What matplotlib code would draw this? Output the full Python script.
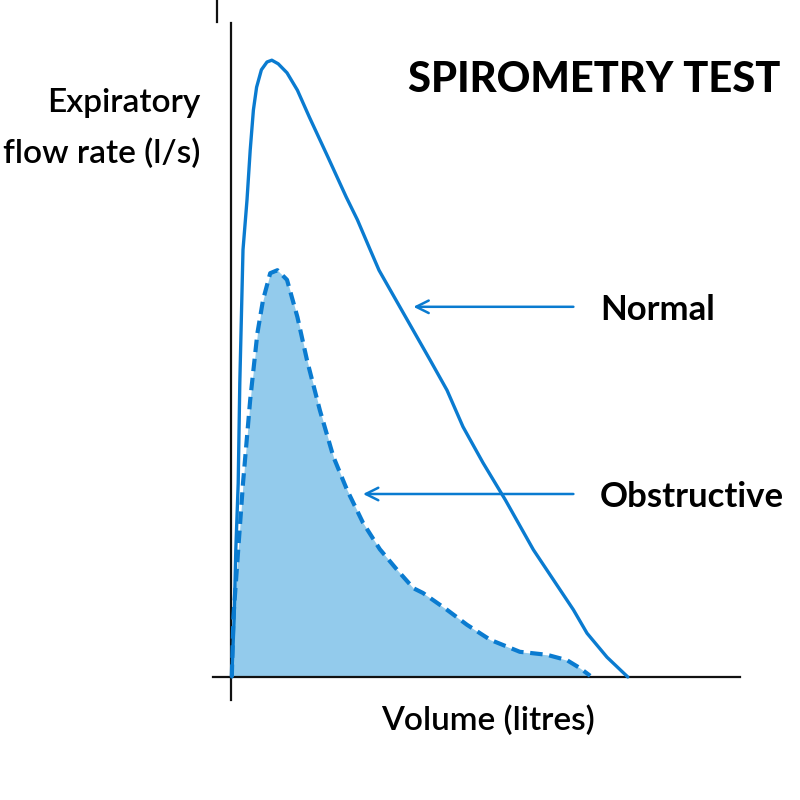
import matplotlib
matplotlib.use("Agg")
import matplotlib.pyplot as plt
from matplotlib.lines import Line2D

# ---- data (volume in litres, flow in l/s) ----
normal_vol = [0.01, 0.04, 0.06, 0.09, 0.11, 0.15, 0.20, 0.24, 0.28, 0.32, 0.38, 0.45,
              0.51, 0.59, 0.70, 0.83, 0.98, 1.21, 1.44, 1.58, 1.74, 1.85, 2.11, 2.49,
              2.70, 2.90, 3.15, 3.43, 3.78, 4.03, 4.28, 4.45, 4.70, 4.96]
normal_flow = [0.0, 1.00, 2.12, 3.23, 4.90, 7.12, 7.95, 8.78, 9.45, 9.83, 10.12, 10.25,
               10.28, 10.22, 10.07, 9.78, 9.33, 8.67, 8.00, 7.62, 7.12, 6.78, 6.17, 5.28,
               4.78, 4.17, 3.57, 2.95, 2.12, 1.62, 1.12, 0.73, 0.33, 0.0]

obstr_vol = [0.01, 0.03, 0.09, 0.15, 0.24, 0.33, 0.40, 0.49, 0.58, 0.70, 0.83, 0.95,
             1.11, 1.28, 1.45, 1.65, 1.86, 2.08, 2.28, 2.40, 2.70, 2.95, 3.24, 3.61,
             3.95, 4.20, 4.36, 4.49]
obstr_flow = [0.0, 1.00, 2.12, 3.23, 4.62, 5.73, 6.28, 6.73, 6.78, 6.62, 6.00, 5.28,
              4.45, 3.67, 3.12, 2.57, 2.13, 1.78, 1.48, 1.40, 1.12, 0.87, 0.62, 0.42,
              0.37, 0.28, 0.15, 0.02]

title = "SPIROMETRY TEST"
labels = ["Normal", "Obstructive"]
arrow_tips = [(2.28, 6.17), (1.65, 3.05)]  # where arrows point
arrow_tails = [(4.28, 6.17), (4.28, 3.05)]

FONT = ["Lato", "DejaVu Sans"]
BLUE = "#0a7bd0"
FILL = "#93cbec"

fig = plt.figure(figsize=(8, 8), dpi=100)
# axes placed so origin sits near pixel (231, 677)
ax = fig.add_axes([213 / 800, 100 / 800, (740 - 213) / 800, (700 - 23) / 800])
kx, ky = 80.0, 60.0
ax.set_xlim(-(231 - 213) / kx, (740 - 231) / kx)
ax.set_ylim(-(700 - 677) / ky, (677 - 23) / ky)

for s in ["top", "right"]:
    ax.spines[s].set_visible(False)
ax.spines["left"].set_position(("data", 0))
ax.spines["bottom"].set_position(("data", 0))
for s in ["left", "bottom"]:
    ax.spines[s].set_linewidth(1.6)
    ax.spines[s].set_color("#111111")
ax.set_xticks([])
ax.set_yticks([])
ax.patch.set_alpha(0)

ax.fill_between(obstr_vol, obstr_flow, 0, color=FILL, lw=0, zorder=1)
ax.plot(obstr_vol, obstr_flow, color=BLUE, lw=3.0, ls=(0, (3, 1.6)), zorder=3)
ax.plot(normal_vol, normal_flow, color=BLUE, lw=2.4, zorder=3,
        solid_joinstyle="round", solid_capstyle="round")

for lab, tip, tail in zip(labels, arrow_tips, arrow_tails):
    ax.annotate("", xy=tip, xytext=tail,
                arrowprops=dict(arrowstyle="->,head_length=0.9,head_width=0.45",
                                color=BLUE, lw=1.8, shrinkA=0, shrinkB=0))
    ax.text(tail[0] + 0.33, tail[1], lab, fontsize=25, fontweight="bold",
            family=FONT, ha="left", va="center_baseline")

# small stray tick at top of the axis line
fig.add_artist(Line2D([217 / 800, 217 / 800], [1 - 22 / 800, 1.0],
                      color="#111111", lw=1.6))

fig.text(780 / 800, 1 - 92 / 800, title, fontsize=30, fontweight="black",
         family=FONT, ha="right", va="baseline")
fig.text(200 / 800, 1 - 112 / 800, "Expiratory", fontsize=24, fontweight="semibold",
         family=FONT, ha="right", va="baseline")
fig.text(200 / 800, 1 - 163 / 800, "flow rate (l/s)", fontsize=24, fontweight="semibold",
         family=FONT, ha="right", va="baseline")
fig.text(488 / 800, 1 - 730 / 800, "Volume (litres)", fontsize=24, fontweight="semibold",
         family=FONT, ha="center", va="baseline")

fig.savefig("out.png", dpi=100, facecolor="white")
